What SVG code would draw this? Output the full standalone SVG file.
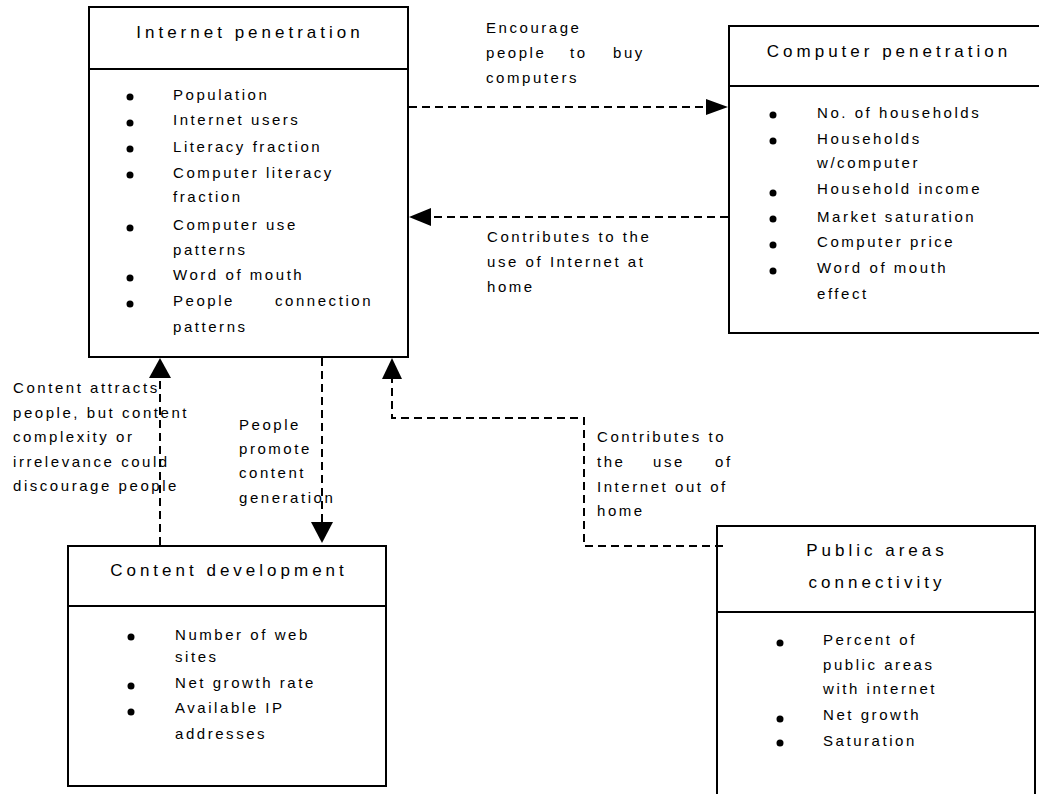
<svg xmlns="http://www.w3.org/2000/svg" width="1039" height="794" viewBox="0 0 1039 794">
<style>
.box{fill:#fff;stroke:#000;stroke-width:2}
.div{stroke:#000;stroke-width:2}
.title{font-family:"Liberation Sans",Arial,sans-serif;font-size:17px;letter-spacing:4px;fill:#000;text-anchor:middle}
.item{font-family:"Liberation Sans",Arial,sans-serif;font-size:15px;letter-spacing:2.55px;fill:#000}
.lbl{font-family:"Liberation Sans",Arial,sans-serif;font-size:15px;letter-spacing:2.55px;fill:#000}
.dash{fill:none;stroke:#000;stroke-width:2;stroke-dasharray:8 5}
.head{fill:#000}
.bul{fill:#000}
</style>
<rect width="1039" height="794" fill="#fff"/>

<g id="internet-penetration">
<rect class="box" x="89" y="7" width="319" height="350"/>
<line class="div" x1="89" y1="69" x2="408" y2="69"/>
<text class="title" x="250" y="38">Internet penetration</text>
<circle class="bul" cx="130" cy="97" r="3.5"/><text class="item" x="173" y="100">Population</text>
<circle class="bul" cx="130" cy="123" r="3.5"/><text class="item" x="173" y="125">Internet users</text>
<circle class="bul" cx="130" cy="149" r="3.5"/><text class="item" x="173" y="152">Literacy fraction</text>
<circle class="bul" cx="130" cy="175" r="3.5"/><text class="item" x="173" y="178">Computer literacy</text>
<text class="item" x="173" y="202">fraction</text>
<circle class="bul" cx="130" cy="228" r="3.5"/><text class="item" x="173" y="230">Computer use</text>
<text class="item" x="173" y="255">patterns</text>
<circle class="bul" cx="130" cy="278" r="3.5"/><text class="item" x="173" y="280">Word of mouth</text>
<circle class="bul" cx="130" cy="304" r="3.5"/><text class="item" x="173" y="306">People</text><text class="item" x="275" y="306">connection</text>
<text class="item" x="173" y="332">patterns</text>
</g>

<g id="computer-penetration">
<rect class="box" x="729" y="26" width="320" height="307"/>
<line class="div" x1="729" y1="86" x2="1049" y2="86"/>
<text class="title" x="889" y="57">Computer penetration</text>
<circle class="bul" cx="773" cy="115" r="3.5"/><text class="item" x="817" y="118">No. of households</text>
<circle class="bul" cx="773" cy="141" r="3.5"/><text class="item" x="817" y="144">Households</text>
<text class="item" x="817" y="168">w/computer</text>
<circle class="bul" cx="773" cy="193" r="3.5"/><text class="item" x="817" y="194">Household income</text>
<circle class="bul" cx="773" cy="219" r="3.5"/><text class="item" x="817" y="222">Market saturation</text>
<circle class="bul" cx="773" cy="245" r="3.5"/><text class="item" x="817" y="247">Computer price</text>
<circle class="bul" cx="773" cy="271" r="3.5"/><text class="item" x="817" y="273">Word of mouth</text>
<text class="item" x="817" y="299">effect</text>
</g>

<g id="content-development">
<rect class="box" x="68" y="546" width="318" height="240"/>
<line class="div" x1="68" y1="606" x2="386" y2="606"/>
<text class="title" x="229" y="576">Content development</text>
<circle class="bul" cx="131" cy="637" r="3.5"/><text class="item" x="175" y="640">Number of web</text>
<text class="item" x="175" y="662">sites</text>
<circle class="bul" cx="131" cy="686" r="3.5"/><text class="item" x="175" y="688">Net growth rate</text>
<circle class="bul" cx="131" cy="712" r="3.5"/><text class="item" x="175" y="713">Available IP</text>
<text class="item" x="175" y="739">addresses</text>
</g>

<g id="public-areas-connectivity">
<rect class="box" x="717" y="526" width="318" height="290"/>
<line class="div" x1="717" y1="612" x2="1035" y2="612"/>
<text class="title" x="877" y="556">Public areas</text>
<text class="title" x="877" y="588">connectivity</text>
<circle class="bul" cx="780" cy="643" r="3.5"/><text class="item" x="823" y="645">Percent of</text>
<text class="item" x="823" y="670">public areas</text>
<text class="item" x="823" y="694">with internet</text>
<circle class="bul" cx="780" cy="719" r="3.5"/><text class="item" x="823" y="720">Net growth</text>
<circle class="bul" cx="780" cy="743" r="3.5"/><text class="item" x="823" y="746">Saturation</text>
</g>

<g id="connectors">
<line class="dash" x1="409" y1="107" x2="707" y2="107"/>
<polygon class="head" points="706,99 728,107 706,115"/>
<line class="dash" x1="728" y1="217" x2="430" y2="217"/>
<polygon class="head" points="431,208 409,217 431,226"/>
<line class="dash" x1="160" y1="545" x2="160" y2="378"/>
<polygon class="head" points="149,378 160,358 171,378"/>
<line class="dash" x1="322" y1="358" x2="322" y2="523"/>
<polygon class="head" points="311,522 322,543 333,522"/>
<polyline class="dash" points="723,546 584,546 584,418 392,418 392,379"/>
<polygon class="head" points="382,379 392,358 402,379"/>

<text class="lbl" x="486" y="33">Encourage</text>
<text class="lbl" y="58"><tspan x="486">people</tspan><tspan x="570">to</tspan><tspan x="613">buy</tspan></text>
<text class="lbl" x="486" y="83">computers</text>

<text class="lbl" x="487" y="242">Contributes to the</text>
<text class="lbl" x="487" y="267">use of Internet at</text>
<text class="lbl" x="487" y="292">home</text>

<text class="lbl" x="13" y="393">Content attracts</text>
<text class="lbl" x="13" y="418">people, but content</text>
<text class="lbl" x="13" y="442">complexity or</text>
<text class="lbl" x="13" y="467">irrelevance could</text>
<text class="lbl" x="13" y="491">discourage people</text>

<text class="lbl" x="239" y="430">People</text>
<text class="lbl" x="239" y="454">promote</text>
<text class="lbl" x="239" y="478">content</text>
<text class="lbl" x="239" y="503">generation</text>

<text class="lbl" x="597" y="442">Contributes to</text>
<text class="lbl" y="467"><tspan x="597">the</tspan><tspan x="653">use</tspan><tspan x="715">of</tspan></text>
<text class="lbl" x="597" y="492">Internet out of</text>
<text class="lbl" x="597" y="516">home</text>
</g>
</svg>
